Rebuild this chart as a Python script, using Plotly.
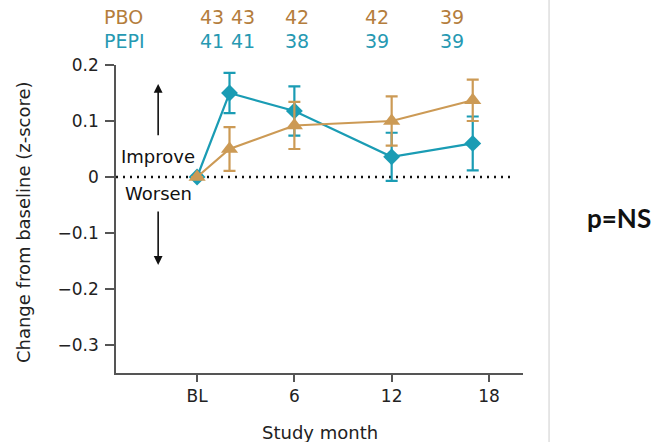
import plotly.graph_objects as go

# Study visits (months from baseline) and mean change in z-score
months = [0, 2, 6, 12, 17]
pbo_mean = [0.0, 0.050, 0.092, 0.100, 0.137]
pbo_err = [0.0, 0.039, 0.042, 0.044, 0.037]
pepi_mean = [0.0, 0.150, 0.118, 0.036, 0.060]
pepi_err = [0.0, 0.036, 0.044, 0.043, 0.048]

# Number of participants at each visit
pbo_n = ["43", "43", "42", "42", "39"]
pepi_n = ["41", "41", "38", "39", "39"]
count_label_x = [0.93, 2.84, 6.17, 11.1, 15.7]

x_tickvals = [0, 6, 12, 18]
x_ticktext = ["BL", "6", "12", "18"]
y_tickvals = [-0.3, -0.2, -0.1, 0, 0.1, 0.2]
y_ticktext = ["\u22120.3", "\u22120.2", "\u22120.1", "0", "0.1", "0.2"]

TEAL = "#1a9cb4"
TAN = "#cc9a55"
TAN_TEXT = "#b47d3c"
TEAL_TEXT = "#2699b2"
AXIS = "#555555"
FONT = "DejaVu Sans, sans-serif"

fig = go.Figure()

fig.add_trace(go.Scatter(
    x=months, y=pepi_mean, mode="lines+markers", name="PEPI",
    line=dict(color=TEAL, width=2.2),
    marker=dict(symbol="diamond", size=13, color=TEAL),
    error_y=dict(type="data", array=pepi_err, color=TEAL, thickness=2.2, width=6),
))
fig.add_trace(go.Scatter(
    x=months, y=pbo_mean, mode="lines+markers", name="PBO",
    line=dict(color=TAN, width=2.2),
    marker=dict(symbol="triangle-up", size=15, color=TAN),
    error_y=dict(type="data", array=pbo_err, color=TAN, thickness=2.2, width=6),
))

# Zero reference line
fig.add_shape(type="line", xref="x", yref="y", x0=-5, x1=19.6, y0=0, y1=0,
              line=dict(color="#111111", width=2.4, dash="2px,5px"), layer="below")

# Thin separator on the right
fig.add_shape(type="line", xref="paper", yref="paper", x0=1.064, x1=1.064,
              y0=-0.3, y1=1.3, line=dict(color="#d6d6d6", width=1.2))

annotations = []
# Direction arrows
annotations.append(dict(x=-2.4, y=0.166, ax=-2.4, ay=0.072, xref="x", yref="y",
                        axref="x", ayref="y", showarrow=True, arrowhead=2,
                        arrowsize=1.1, arrowwidth=1.6, arrowcolor="#111111", text=""))
annotations.append(dict(x=-2.4, y=-0.157, ax=-2.4, ay=-0.059, xref="x", yref="y",
                        axref="x", ayref="y", showarrow=True, arrowhead=2,
                        arrowsize=1.1, arrowwidth=1.6, arrowcolor="#111111", text=""))
annotations.append(dict(x=-2.4, y=0.036, xref="x", yref="y", text="Improve",
                        showarrow=False, font=dict(size=18, color="#111111", family=FONT)))
annotations.append(dict(x=-2.4, y=-0.029, xref="x", yref="y", text="Worsen",
                        showarrow=False, font=dict(size=18, color="#111111", family=FONT)))

# Group labels and counts above the plot
annotations.append(dict(x=-0.034, y=1.156, xref="paper", yref="paper", text="PBO",
                        xanchor="left", yanchor="middle", showarrow=False,
                        font=dict(size=19, color=TAN_TEXT, family=FONT)))
annotations.append(dict(x=-0.034, y=1.078, xref="paper", yref="paper", text="PEPI",
                        xanchor="left", yanchor="middle", showarrow=False,
                        font=dict(size=19, color=TEAL_TEXT, family=FONT)))
for xv, n1, n2 in zip(count_label_x, pbo_n, pepi_n):
    annotations.append(dict(x=xv, y=1.156, xref="x", yref="paper", text=n1,
                            xanchor="center", yanchor="middle", showarrow=False,
                            font=dict(size=19, color=TAN_TEXT, family=FONT)))
    annotations.append(dict(x=xv, y=1.078, xref="x", yref="paper", text=n2,
                            xanchor="center", yanchor="middle", showarrow=False,
                            font=dict(size=19, color=TEAL_TEXT, family=FONT)))

# Axis titles
annotations.append(dict(x=-0.2285, y=0.49, xref="paper", yref="paper",
                        text="Change from baseline (z-score)", textangle=-90,
                        xanchor="center", yanchor="middle", showarrow=False,
                        font=dict(size=18, color="#222222", family=FONT)))
annotations.append(dict(x=0.5, y=-0.192, xref="paper", yref="paper",
                        text="Study month", xanchor="center", yanchor="middle",
                        showarrow=False, font=dict(size=18, color="#222222", family=FONT)))

# Significance note
annotations.append(dict(x=1.236, y=0.503, xref="paper", yref="paper", text="<b>p=NS</b>",
                        xanchor="center", yanchor="middle", showarrow=False,
                        font=dict(size=26, color="#111111", family="Lato, sans-serif")))

fig.update_layout(
    width=662, height=442,
    margin=dict(l=116, r=139, t=65, b=69, autoexpand=False),
    paper_bgcolor="white", plot_bgcolor="white",
    showlegend=False,
    annotations=annotations,
    font=dict(family=FONT, color="#222222"),
    xaxis=dict(
        range=[-5, 20.1], tickvals=x_tickvals, ticktext=x_ticktext,
        showgrid=False, zeroline=False, showline=True, linecolor=AXIS, linewidth=1.5,
        ticks="outside", ticklen=7, tickcolor=AXIS, tickwidth=1.5, automargin=False,
        tickfont=dict(size=17, color="#222222", family=FONT),
    ),
    yaxis=dict(
        range=[-0.35, 0.2], tickvals=y_tickvals, ticktext=y_ticktext,
        showgrid=False, zeroline=False, showline=True, linecolor=AXIS, linewidth=1.5,
        ticks="outside", ticklen=9, tickcolor=AXIS, tickwidth=1.5, ticklabelstandoff=3,
        automargin=False,
        tickfont=dict(size=17, color="#222222", family=FONT),
    ),
)

fig.write_html("out.html")
